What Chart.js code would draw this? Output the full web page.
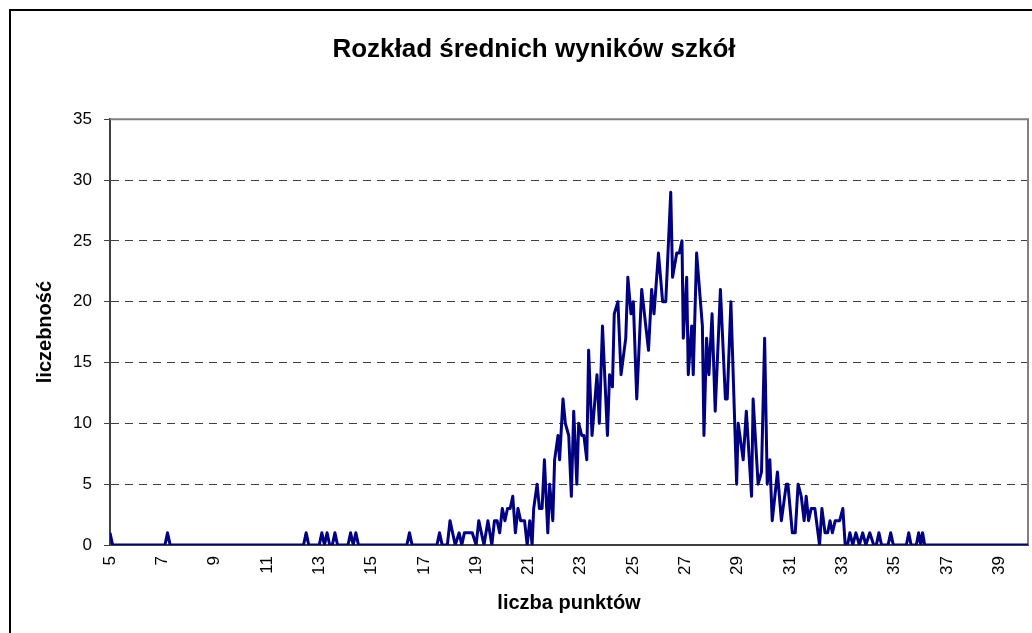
<!DOCTYPE html>
<html lang="pl">
<head>
<meta charset="utf-8">
<title>Rozkład średnich wyników szkół</title>
<script src="https://cdn.jsdelivr.net/npm/chart.js@4/dist/chart.umd.min.js"></script>
<style>
    html, body { margin: 0; padding: 0; background: #fff; }
    #wrap { position: relative; width: 1032px; height: 633px; overflow: hidden; }
    #frame {
        position: absolute; left: 9px; top: 9px; width: 1100px; height: 700px;
        border-left: 2px solid #000; border-top: 2px solid #000;
    }
    #chart { position: absolute; left: 0; top: 0; }
</style>
</head>
<body>
<div id="wrap">
    <div id="frame"></div>
    <!-- canvas szerszy niz okno: ramka wykresu wychodzi poza obraz -->
    <canvas id="chart" width="1068" height="633"></canvas>
</div>
<script>
// Dane: srednia liczba punktow szkoly (x) i liczba szkol (y)
const xValues = [
    5.0, 5.1, 7.1, 7.2, 7.3, 12.4, 12.5, 12.6, 13.0, 13.1, 13.2, 13.3, 13.4, 13.5, 13.6, 13.7,
    14.1, 14.2, 14.3, 14.4, 14.5, 16.35, 16.45, 16.55,
    17.5, 17.6, 17.7, 17.9, 18.0, 18.1, 18.2, 18.35, 18.45, 18.55, 18.7, 18.85, 19.0, 19.1,
    19.2, 19.3, 19.45, 19.6, 19.7, 19.8, 19.9, 20.0, 20.1, 20.2, 20.3, 20.4, 20.5, 20.6,
    20.7, 20.85, 20.95, 21.05, 21.14,
    21.2, 21.33, 21.42, 21.52, 21.61, 21.74, 21.81, 21.93, 22.0, 22.13, 22.19, 22.32, 22.41,
    22.54, 22.64, 22.73, 22.85, 22.92, 23.04, 23.12, 23.23, 23.3, 23.43, 23.62, 23.71, 23.83,
    24.02, 24.1, 24.21, 24.28, 24.42, 24.54, 24.72, 24.8, 24.92, 25.01, 25.14,
    25.33, 25.59, 25.71, 25.8, 25.97, 26.13, 26.25, 26.44, 26.51, 26.67, 26.77, 26.87, 26.92,
    27.05, 27.11, 27.24, 27.3, 27.43, 27.65, 27.71, 27.81, 27.9, 28.02, 28.14, 28.34, 28.53,
    28.6, 28.74, 28.96,
    29.02, 29.21, 29.33, 29.53, 29.59, 29.78, 29.91, 30.03, 30.13, 30.23, 30.32, 30.52, 30.67,
    30.86, 30.92, 31.09, 31.2, 31.31, 31.43, 31.54, 31.62, 31.71, 31.81, 31.95, 32.13, 32.22,
    32.34, 32.44, 32.53, 32.62, 32.73, 32.9, 33.02, 33.11,
    33.2, 33.29, 33.4, 33.52, 33.65, 33.78, 33.9, 34.05, 34.2, 34.3, 34.4, 34.5, 34.75, 34.85,
    34.95, 35.45, 35.54, 35.63, 35.83, 35.92, 36.0, 36.07, 36.15, 40.1
];
const yValues = [
    1, 0, 0, 1, 0, 0, 1, 0, 0, 1, 0, 1, 0, 0, 1, 0,
    0, 1, 0, 1, 0, 0, 1, 0,
    0, 1, 0, 0, 2, 1, 0, 1, 0, 1, 1, 1, 0, 2,
    1, 0, 2, 0, 2, 2, 1, 3, 2, 3, 3, 4, 1, 3,
    2, 2, 0, 2, 0,
    3, 5, 3, 3, 7, 1, 5, 2, 7, 9, 7, 12, 10,
    9, 4, 11, 5, 10, 9, 9, 7, 16, 9, 14, 10, 18,
    9, 14, 13, 19, 20, 14, 17, 22, 19, 20, 12,
    21, 16, 21, 19, 24, 20, 20, 29, 22, 24, 24, 25, 17,
    22, 14, 18, 14, 24, 18, 9, 17, 14, 19, 11, 21, 12,
    12, 20, 5,
    10, 7, 11, 4, 12, 5, 6, 17, 5, 7, 2, 6, 2,
    5, 5, 1, 1, 5, 4, 2, 4, 2, 3, 3, 0, 3,
    1, 1, 2, 1, 2, 2, 3, 0,
    0, 1, 0, 1, 0, 1, 0, 1, 0, 0, 1, 0, 0, 1,
    0, 0, 1, 0, 0, 1, 0, 1, 0, 0
];
// Etykiety osi X i Y
const xTickLabels = [5, 7, 9, 11, 13, 15, 17, 19, 21, 23, 25, 27, 29, 31, 33, 35, 37, 39];
const yTickLabels = [0, 5, 10, 15, 20, 25, 30, 35];

const FONT = "'Liberation Sans', Arial, sans-serif";

// Ramka obszaru wykresu (gorna i prawa krawedz w kolorze szarym)
const plotFrame = {
    id: 'plotFrame',
    beforeDatasetsDraw(chart) {
        const {ctx, chartArea: a} = chart;
        ctx.save();
        ctx.strokeStyle = '#808080';
        ctx.lineWidth = 2;
        ctx.beginPath();
        ctx.moveTo(a.left, a.top);
        ctx.lineTo(a.right, a.top);
        ctx.lineTo(a.right, a.bottom);
        ctx.stroke();
        ctx.restore();
    }
};

const points = xValues.map((x, i) => ({ x: x, y: yValues[i] }));

new Chart(document.getElementById('chart'), {
    type: 'line',
    data: {
        datasets: [{
            data: points,
            borderColor: '#000080',
            borderWidth: 3,
            pointRadius: 0,
            tension: 0,
            borderJoinStyle: 'round',
            fill: false
        }]
    },
    options: {
        responsive: false,
        animation: false,
        layout: { padding: 0 },
        plugins: {
            legend: { display: false },
            tooltip: { enabled: false },
            title: {
                display: true,
                text: 'Rozkład średnich wyników szkół',
                color: '#000',
                font: { family: FONT, size: 26, weight: 'bold' },
                padding: { top: 34, bottom: 54 }
            }
        },
        scales: {
            x: {
                type: 'linear',
                min: 5,
                max: 40.1,
                afterBuildTicks: (scale) => {
                    scale.ticks = xTickLabels.map(v => ({ value: v }));
                },
                afterFit: (scale) => { scale.height = 88; },
                grid: { display: false, drawTicks: false },
                border: { display: true, color: '#404040', width: 2 },
                ticks: {
                    autoSkip: false,
                    minRotation: 90,
                    maxRotation: 90,
                    padding: 11,
                    color: '#000',
                    font: { family: FONT, size: 17 }
                },
                title: {
                    display: true,
                    text: 'liczba punktów',
                    color: '#000',
                    font: { family: FONT, size: 20, weight: 'bold' },
                    padding: { top: 0, bottom: 18 }
                }
            },
            y: {
                min: 0,
                max: 35,
                afterBuildTicks: (scale) => {
                    scale.ticks = yTickLabels.map(v => ({ value: v }));
                },
                afterFit: (scale) => { scale.width = 110; },
                grid: {
                    color: '#404040',
                    lineWidth: 1,
                    tickLength: 6,
                    tickColor: '#404040'
                },
                border: { display: true, color: '#404040', width: 2, dash: [8, 6] },
                ticks: {
                    padding: 12,
                    color: '#000',
                    font: { family: FONT, size: 17 }
                },
                title: {
                    display: true,
                    text: 'liczebność',
                    color: '#000',
                    font: { family: FONT, size: 20, weight: 'bold' },
                    padding: { top: 33, bottom: 0 }
                }
            },
            // pusta os po prawej: tylko rezerwuje miejsce za obszarem wykresu
            spacer: {
                type: 'linear',
                position: 'right',
                afterFit: (scale) => { scale.width = 40; },
                grid: { display: false, drawTicks: false },
                border: { display: false },
                ticks: { display: false }
            }
        }
    },
    plugins: [plotFrame]
});
</script>
</body>
</html>
